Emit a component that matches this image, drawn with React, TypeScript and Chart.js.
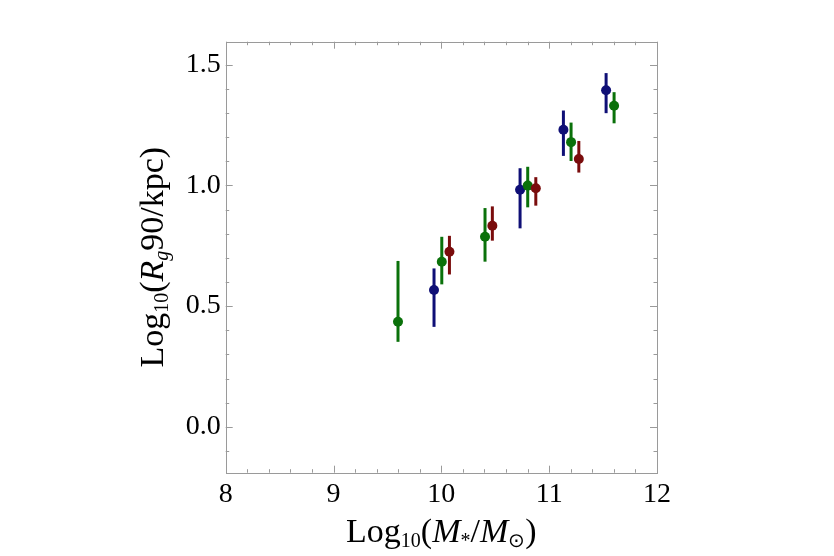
import React, { useEffect, useRef } from "react";
import { Chart, registerables } from "chart.js";

Chart.register(...registerables);

// ---- data ----
const blueX = [9.932, 10.73, 11.132, 11.528];
const blueY = [0.567, 0.982, 1.23, 1.394];
const blueLo = [0.414, 0.822, 1.122, 1.299];
const blueHi = [0.656, 1.071, 1.31, 1.465];

const greenX = [9.598, 10.004, 10.405, 10.801, 11.203, 11.602];
const greenY = [0.435, 0.684, 0.787, 0.999, 1.179, 1.33];
const greenLo = [0.352, 0.59, 0.684, 0.909, 1.101, 1.257];
const greenHi = [0.687, 0.787, 0.906, 1.077, 1.26, 1.386];

const redX = [10.075, 10.473, 10.876, 11.275];
const redY = [0.725, 0.833, 0.988, 1.109];
const redLo = [0.631, 0.771, 0.916, 1.053];
const redHi = [0.791, 0.913, 1.034, 1.184];

const xMajorTicks = [8, 9, 10, 11, 12];
const yMajorTicks = [0.0, 0.5, 1.0, 1.5];
const xMin = 8, xMax = 12;
const yMin = -0.19, yMax = 1.595;

const BLUE = "#0f0f76";
const GREEN = "#0a710a";
const RED = "#7a0c0c";
const FRAME = "#9a9a9a";
const SERIF = "'Liberation Serif', 'Times New Roman', serif";

type Seg = { t: string; it?: boolean; sub?: boolean };
const xTitle: Seg[] = [
  { t: "Log" }, { t: "10", sub: true }, { t: "(" }, { t: "M", it: true },
  { t: "*", sub: true }, { t: "/" }, { t: "M", it: true }, { t: "\u2299", sub: true }, { t: ")" },
];
const yTitle: Seg[] = [
  { t: "Log" }, { t: "10", sub: true }, { t: "(" }, { t: "R", it: true },
  { t: "g", sub: true, it: true }, { t: "90/kpc)" },
];

function segFont(s: Seg, size: number) {
  const sz = s.sub ? Math.round(size * 0.6) : size;
  return `${s.it ? "italic " : ""}${sz}px ${SERIF}`;
}
function drawRich(ctx: CanvasRenderingContext2D, segs: Seg[], cx: number, cy: number, size: number, rot: number) {
  ctx.save();
  ctx.translate(cx, cy);
  ctx.rotate(rot);
  let total = 0;
  for (const s of segs) { ctx.font = segFont(s, size); total += ctx.measureText(s.t).width; }
  let x = -total / 2;
  ctx.fillStyle = "#000";
  ctx.textBaseline = "alphabetic";
  ctx.textAlign = "left";
  for (const s of segs) {
    ctx.font = segFont(s, size);
    ctx.fillText(s.t, x, s.sub ? size * 0.16 : 0);
    x += ctx.measureText(s.t).width;
  }
  ctx.restore();
}

const errorBars = {
  id: "errorBars",
  beforeDatasetsDraw(chart: any) {
    const { ctx } = chart;
    const xs = chart.scales.x, ys = chart.scales.y;
    const sets = [
      { x: blueX, lo: blueLo, hi: blueHi, c: BLUE },
      { x: greenX, lo: greenLo, hi: greenHi, c: GREEN },
      { x: redX, lo: redLo, hi: redHi, c: RED },
    ];
    ctx.save();
    ctx.lineWidth = 3;
    ctx.lineCap = "butt";
    for (const s of sets) {
      ctx.strokeStyle = s.c;
      s.x.forEach((xv, i) => {
        const px = xs.getPixelForValue(xv);
        ctx.beginPath();
        ctx.moveTo(px, ys.getPixelForValue(s.lo[i]));
        ctx.lineTo(px, ys.getPixelForValue(s.hi[i]));
        ctx.stroke();
      });
    }
    ctx.restore();
  },
};

const frame = {
  id: "frame",
  afterDraw(chart: any) {
    const { ctx, chartArea: a } = chart;
    const xs = chart.scales.x, ys = chart.scales.y;
    ctx.save();
    ctx.strokeStyle = FRAME;
    ctx.lineWidth = 1;
    ctx.strokeRect(Math.round(a.left) + 0.5, Math.round(a.top) + 0.5, Math.round(a.right - a.left), Math.round(a.bottom - a.top));
    ctx.beginPath();
    for (let i = 0; i <= 20; i++) {
      const v = xMin + i * 0.2;
      const major = i % 5 === 0;
      const len = major ? 7 : 3.5;
      const px = Math.round(xs.getPixelForValue(v)) + 0.5;
      ctx.moveTo(px, a.bottom); ctx.lineTo(px, a.bottom - len);
      ctx.moveTo(px, a.top); ctx.lineTo(px, a.top + len);
    }
    for (let i = -1; i <= 15; i++) {
      const v = i * 0.1;
      const major = (i + 100) % 5 === 0;
      const len = major ? 7 : 3.5;
      const py = Math.round(ys.getPixelForValue(v)) + 0.5;
      ctx.moveTo(a.left, py); ctx.lineTo(a.left + len, py);
      ctx.moveTo(a.right, py); ctx.lineTo(a.right - len, py);
    }
    ctx.stroke();
    ctx.restore();
    drawRich(ctx, xTitle, (a.left + a.right) / 2, 541.5, 34, 0);
    drawRich(ctx, yTitle, 163, (a.top + a.bottom) / 2, 34, -Math.PI / 2);
  },
};

export default function App() {
  const ref = useRef<HTMLCanvasElement>(null);
  useEffect(() => {
    if (!ref.current) return;
    const mk = (xs: number[], ys: number[]) => xs.map((x, i) => ({ x, y: ys[i] }));
    const chart = new Chart(ref.current, {
      type: "scatter",
      data: {
        datasets: [
          { label: "blue", data: mk(blueX, blueY), backgroundColor: BLUE, borderColor: BLUE, pointRadius: 5, borderWidth: 0, order: 2 },
          { label: "green", data: mk(greenX, greenY), backgroundColor: GREEN, borderColor: GREEN, pointRadius: 5, borderWidth: 0, order: 1 },
          { label: "red", data: mk(redX, redY), backgroundColor: RED, borderColor: RED, pointRadius: 5, borderWidth: 0, order: 0 },
        ],
      },
      options: {
        responsive: false,
        animation: false,
        layout: { padding: { left: 0, top: 41.7, right: 177, bottom: 0 } },
        plugins: { legend: { display: false }, tooltip: { enabled: false } },
        scales: {
          x: {
            type: "linear",
            min: xMin,
            max: xMax,
            afterBuildTicks: (s: any) => { s.ticks = xMajorTicks.map((v) => ({ value: v })); },
            afterFit: (s: any) => { s.height = 83.3; },
            grid: { display: false, drawTicks: false },
            border: { display: false },
            ticks: { color: "#000", font: { family: SERIF, size: 28 }, padding: 5, maxRotation: 0, callback: (v: any) => String(v) },
          },
          y: {
            type: "linear",
            min: yMin,
            max: yMax,
            afterBuildTicks: (s: any) => { s.ticks = yMajorTicks.map((v) => ({ value: v })); },
            afterFit: (s: any) => { s.width = 225.7; },
            grid: { display: false, drawTicks: false },
            border: { display: false },
            ticks: { color: "#000", font: { family: SERIF, size: 28 }, padding: 5, callback: (v: any) => Number(v).toFixed(1) },
          },
        },
      },
      plugins: [errorBars, frame],
    });
    return () => chart.destroy();
  }, []);
  return (
    <div style={{ position: "absolute", left: 0, top: 0, width: 834, height: 556, background: "#fff" }}>
      <canvas ref={ref} width={834} height={556} />
    </div>
  );
}
